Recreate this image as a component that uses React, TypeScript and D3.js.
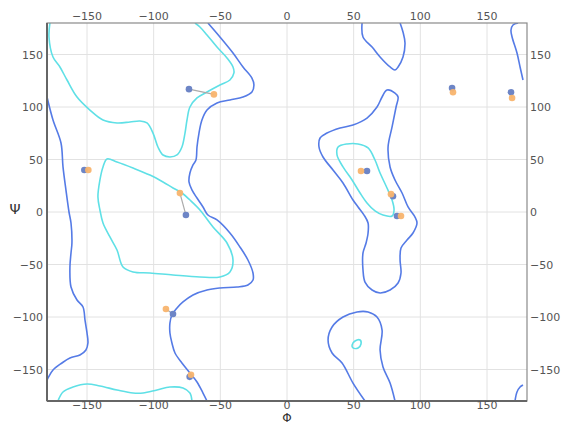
import { useEffect, useRef } from "react"
import * as d3 from "d3"

// Ramachandran contours, [phi, psi] in degrees
const blueUpperLeft: [number, number][] = [
  [-59.3, 180], [-50.3, 166.7], [-40.5, 151.4], [-33, 138.1], [-26.3, 127.6], [-24.8, 121],
  [-26.3, 114.3], [-33, 109.5], [-42.8, 106.7], [-52.5, 103.8], [-60, 97.1], [-63.8, 87.6],
  [-66, 75.2], [-67.5, 61.9], [-68.3, 49.5], [-70.5, 44.8], [-72.8, 37.1], [-73.5, 28.6],
  [-71.3, 21], [-67.5, 13.3], [-63, 4.8], [-59.3, -2.9], [-52.5, -7.6], [-42.8, -20],
  [-35.3, -33.3], [-29.3, -45.7], [-25.5, -58.1], [-25.5, -64.8], [-29.3, -69.5], [-37.5, -71.4],
  [-50.3, -72.4], [-60, -74.3], [-70.5, -79], [-78, -85.7], [-82.5, -91.4], [-86.3, -98.1],
  [-87.8, -105.7], [-87.8, -115.2], [-86.3, -124.8], [-84, -134.3], [-78.8, -143.8],
  [-72.8, -153.3], [-67.5, -161.9], [-63, -172.4], [-60, -180],
]
const blueLeftEdge: [number, number][] = [
  [-180, 109.5], [-175.5, 87.6], [-169.5, 65.7], [-168, 42.9], [-165.8, 21], [-163.5, 0],
  [-162, -10.5], [-161.3, -29.5], [-162, -39], [-162.8, -52.4], [-162, -71.4], [-157.5, -83.8],
  [-153, -90.5], [-151.5, -102.9], [-150, -115.2], [-149.3, -124.8], [-150.8, -131.4],
  [-155.3, -136.2], [-162.8, -139], [-168.8, -143.8], [-175.5, -150.5], [-180, -160],
]
const blueTopBlob: [number, number][] = [
  [56.3, 180], [57, 166.7], [63.8, 157.1], [69.8, 147.6], [77.3, 138.1], [81, 135.2],
  [83.3, 138.1], [87, 147.6], [88.5, 161], [87, 171.4], [84.8, 180],
]
const blueBottomBlob: [number, number][] = [
  [58.5, -180], [49.5, -162.9], [41.3, -143.8], [33.8, -134.3], [30.8, -121.9], [33.8, -109.5],
  [42, -100], [52.5, -95.2], [60.8, -95.2], [67.5, -100], [71.3, -112.4], [69.8, -131.4],
  [72, -147.6], [77.3, -162.9], [81, -180],
]
const blueLeftAlpha: [number, number][] = [
  [75, 116.2], [81, 113.3], [83.3, 109.5], [81.8, 100], [78.8, 81], [75.8, 61.9], [77.3, 42.9],
  [81, 30.5], [86.3, 18.1], [90.8, 4.8], [96, -4.8], [97.5, -10.5], [94.5, -20], [90, -26.7],
  [85.5, -34.3], [84.8, -45.7], [85.5, -58.1], [83.3, -67.6], [77.3, -74.3], [69.8, -77.1],
  [63.8, -74.3], [58.5, -66.7], [57, -55.2], [57, -39], [59.3, -29.5], [60.8, -20], [60.8, -10.5],
  [57.8, -2.9], [53.3, 4.8], [49.5, 11.4], [42, 27.6], [34.5, 40], [27, 52.4], [24, 61.9],
  [24.8, 70.5], [30, 75.2], [39.8, 80], [49.5, 82.9], [60, 89.5], [67.5, 100], [71.3, 109.5],
]
const blueRightTop: [number, number][] = [
  [173.3, 180], [169.5, 178.1], [168, 173.3], [168.8, 166.7], [172.5, 151.4], [174.8, 138.1], [177, 125.7],
]
const blueRightBottom: [number, number][] = [
  [171, -180], [172.5, -171.4], [174.8, -166.7], [177, -164.8],
]

const cyanBeta: [number, number][] = [
  [-177.8, 180], [-178.5, 166.7], [-175.5, 147.6], [-170.3, 138.1], [-165, 125.7], [-157.5, 109.5],
  [-147.8, 97.1], [-138, 87.6], [-127.5, 84.8], [-117.8, 85.7], [-110.3, 86.7], [-105, 84.8],
  [-100.5, 75.2], [-96.8, 61.9], [-93, 54.3], [-87.8, 52.4], [-82.5, 54.3], [-78.8, 61.9],
  [-76.5, 75.2], [-75, 87.6], [-72.8, 100], [-67.5, 108.6], [-60, 114.3], [-50.3, 121],
  [-42.8, 125.7], [-39.8, 132.4], [-40.5, 138.1], [-45, 146.7], [-52.5, 157.1], [-60, 168.6],
  [-65.3, 176.2], [-69, 180],
]
const cyanAlpha: [number, number][] = [
  [-135, 50.5], [-127.5, 47.6], [-115.5, 41.9], [-102.8, 35.2], [-93, 28.6], [-85.5, 22.9],
  [-78.8, 18.1], [-72.8, 11.4], [-65.3, 1.9], [-55.5, -14.3], [-45, -29.5], [-40.5, -45.7],
  [-42.8, -57.1], [-50.3, -61.9], [-65.3, -61.9], [-85.5, -60], [-102.8, -58.1], [-115.5, -57.1],
  [-123, -52.4], [-127.5, -36.2], [-132.8, -23.8], [-138, -10.5], [-140.3, 1.9], [-141.8, 14.3],
  [-140.3, 30.5], [-138, 42.9],
]
const cyanBottom: [number, number][] = [
  [-171.8, -180], [-168, -171.4], [-160.5, -166.7], [-150, -163.8], [-140.3, -165.7],
  [-127.5, -169.5], [-115.5, -172.4], [-108, -172.4], [-97.5, -169.5], [-87.8, -166.7],
  [-78, -167.6], [-72.8, -172.4], [-71.3, -180],
]
const cyanLeftAlpha: [number, number][] = [
  [38.3, 61.9], [45, 64.8], [53.3, 64.8], [60.8, 61], [66, 49.5], [69.8, 37.1], [75, 22.9],
  [78.8, 11.4], [80.3, 1.9], [78.8, -3.8], [72, -2.9], [66, 1], [60, 8.6], [54.8, 18.1],
  [48.8, 30.5], [42, 42.9], [37.5, 54.3],
]
const cyanSmall: [number, number][] = [
  [48.8, -126.7], [51, -122.9], [54.8, -121.9], [55.5, -125.7], [53.3, -129.5], [49.5, -129.5],
]

// residues: model (blue) vs reference (orange)
const bluePhi = [-73.5, -152, -75.8, -85.5, -73, 60, 79.5, 82.5, 123.8, 168]
const bluePsi = [117, 40, -2.9, -97.1, -157, 39, 15, -3.8, 118, 114]
const orangePhi = [-54.8, -149, -80.3, -90.8, -72, 55.5, 78, 85.5, 124.5, 168.8]
const orangePsi = [112, 40, 18, -92.4, -155, 39, 17, -3.8, 114, 108.5]

const ticks = [-150, -100, -50, 0, 50, 100, 150]

export default function App() {
  const svgRef = useRef<SVGSVGElement>(null)

  useEffect(() => {
    if (!svgRef.current) return
    const root = d3.select(svgRef.current)
    root.selectAll("*").remove()

    const left = 47
    const right = 527
    const top = 23
    const bottom = 401

    const x = d3.scaleLinear().domain([-180, 180]).range([left, right])
    const y = d3.scaleLinear().domain([-180, 180]).range([bottom, top])

    root.append("rect").attr("width", 563).attr("height", 425).attr("fill", "white")

    // grid
    const grid = root.append("g")
    grid.selectAll("line.v").data(ticks).enter().append("line")
      .attr("x1", (d) => x(d)).attr("x2", (d) => x(d))
      .attr("y1", top).attr("y2", bottom)
      .attr("stroke", "#e2e2e2").attr("stroke-width", 1)
    grid.selectAll("line.h").data(ticks).enter().append("line")
      .attr("y1", (d) => y(d)).attr("y2", (d) => y(d))
      .attr("x1", left).attr("x2", right)
      .attr("stroke", "#e2e2e2").attr("stroke-width", 1)

    root.append("clipPath").attr("id", "plotclip").append("rect")
      .attr("x", left).attr("y", top).attr("width", right - left).attr("height", bottom - top)

    const plot = root.append("g").attr("clip-path", "url(#plotclip)")
    const lineOpen = d3.line<[number, number]>().x((d) => x(d[0])).y((d) => y(d[1])).curve(d3.curveCatmullRom)
    const lineClosed = d3.line<[number, number]>().x((d) => x(d[0])).y((d) => y(d[1])).curve(d3.curveCatmullRomClosed)

    const blueColor = "#557be6"
    const cyanColor = "#5fe0e6"

    const openCurves = [
      { pts: cyanBeta, c: cyanColor },
      { pts: cyanBottom, c: cyanColor },
      { pts: blueUpperLeft, c: blueColor },
      { pts: blueLeftEdge, c: blueColor },
      { pts: blueTopBlob, c: blueColor },
      { pts: blueBottomBlob, c: blueColor },
      { pts: blueRightTop, c: blueColor },
      { pts: blueRightBottom, c: blueColor },
    ]
    const closedCurves = [
      { pts: cyanAlpha, c: cyanColor },
      { pts: cyanLeftAlpha, c: cyanColor },
      { pts: cyanSmall, c: cyanColor },
      { pts: blueLeftAlpha, c: blueColor },
    ]
    openCurves.forEach((k) => {
      plot.append("path").attr("d", lineOpen(k.pts)).attr("fill", "none")
        .attr("stroke", k.c).attr("stroke-width", 1.6)
    })
    closedCurves.forEach((k) => {
      plot.append("path").attr("d", lineClosed(k.pts)).attr("fill", "none")
        .attr("stroke", k.c).attr("stroke-width", 1.6)
    })

    // connectors
    const idx = d3.range(bluePhi.length)
    plot.selectAll("line.link").data(idx).enter().append("line")
      .attr("x1", (i) => x(bluePhi[i])).attr("y1", (i) => y(bluePsi[i]))
      .attr("x2", (i) => x(orangePhi[i])).attr("y2", (i) => y(orangePsi[i]))
      .attr("stroke", "#aaaaaa").attr("stroke-width", 1.2)

    plot.selectAll("circle.blue").data(idx).enter().append("circle")
      .attr("cx", (i) => x(bluePhi[i])).attr("cy", (i) => y(bluePsi[i]))
      .attr("r", 3.3).attr("fill", "#6d85c6")
    plot.selectAll("circle.orange").data(idx).enter().append("circle")
      .attr("cx", (i) => x(orangePhi[i])).attr("cy", (i) => y(orangePsi[i]))
      .attr("r", 3.3).attr("fill", "#f8b46e").attr("fill-opacity", 0.95)

    // frame
    root.append("rect").attr("x", left).attr("y", top)
      .attr("width", right - left).attr("height", bottom - top)
      .attr("fill", "none").attr("stroke", "#8a8a8a").attr("stroke-width", 1.2)
    root.append("line").attr("x1", left).attr("x2", left).attr("y1", top).attr("y2", bottom)
      .attr("stroke", "#666").attr("stroke-width", 2)
    root.append("line").attr("x1", left).attr("x2", right).attr("y1", bottom).attr("y2", bottom)
      .attr("stroke", "#666").attr("stroke-width", 2)

    const fmt = (d: number) => (d < 0 ? "\u2212" + Math.abs(d) : String(d))
    const tickStyle = (sel: any) =>
      sel.attr("fill", "#555").style("font-family", "DejaVu Sans, Verdana, sans-serif").style("font-size", "11px")

    tickStyle(root.selectAll("text.tt").data(ticks).enter().append("text")
      .attr("x", (d: number) => x(d)).attr("y", 20).attr("text-anchor", "middle").text(fmt))
    tickStyle(root.selectAll("text.tb").data(ticks).enter().append("text")
      .attr("x", (d: number) => x(d)).attr("y", 409).attr("text-anchor", "middle").text(fmt))
    tickStyle(root.selectAll("text.tl").data(ticks).enter().append("text")
      .attr("x", 43).attr("y", (d: number) => y(d) + 4).attr("text-anchor", "end").text(fmt))
    tickStyle(root.selectAll("text.tr").data(ticks).enter().append("text")
      .attr("x", 530).attr("y", (d: number) => y(d) + 4).attr("text-anchor", "start").text(fmt))

    root.append("text").attr("x", 15).attr("y", 214).attr("text-anchor", "middle")
      .attr("fill", "#333").style("font-family", "DejaVu Sans, sans-serif").style("font-size", "14px").text("\u03a8")
    root.append("text").attr("x", 287).attr("y", 422).attr("text-anchor", "middle")
      .attr("fill", "#333").style("font-family", "DejaVu Sans, sans-serif").style("font-size", "12px").text("\u03a6")
  }, [])

  return (
    <svg ref={svgRef} width={563} height={425} style={{ position: "absolute", left: 0, top: 0 }} />
  )
}
